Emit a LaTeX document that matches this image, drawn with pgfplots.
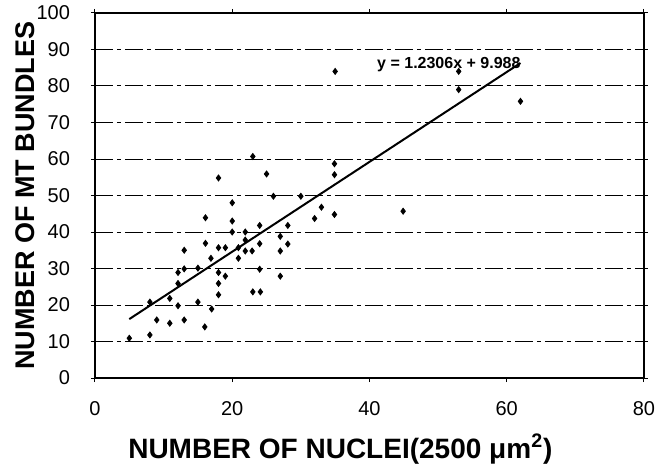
\documentclass[border=0pt]{standalone}
\usepackage{fontspec}
\setmainfont{Liberation Sans}
\usepackage{pgfplots}
\pgfplotsset{compat=1.18}

\begin{document}
\begin{tikzpicture}
\begin{axis}[
    scale only axis, width=274.5pt, height=182.5pt,
    xmin=0, xmax=80, ymin=0, ymax=100,
    xtick={0,20,...,80}, ytick={0,10,...,100},
    ymajorgrids,
    major grid style={black, line width=0.5pt, dash pattern=on 9pt off 2pt on 2pt off 2pt},
    axis line style={black, line width=0.6pt},
    tick style={black, line width=0.5pt},
    major tick length=2pt, tick align=outside,
    /pgf/number format/assume math mode=true,
    ticklabel style={font=\fontsize{10}{12}\selectfont},
    xticklabel style={yshift=-6pt},
    yticklabel style={xshift=-7pt},
    xlabel={NUMBER OF NUCLEI(2500 μm\textsuperscript{2})},
    ylabel={NUMBER OF MT BUNDLES},
    xlabel style={font=\fontsize{14}{16}\selectfont\bfseries,
      at={(axis description cs:0.447,-0.1945)}, anchor=center},
    ylabel style={font=\fontsize{13.5}{16}\selectfont\bfseries,
      at={(axis description cs:-0.1275,0.5)}, anchor=center},
  ]
  % measured points
  \addplot[only marks, mark=diamond*, mark size=1.5pt, black] coordinates {
      (5,10.9) (8,11.8) (8,20.8) (9,15.9) (10.9,15.0) (10.9,21.8)
      (12.1,19.8) (12.1,25.9) (12.1,28.9) (13,15.9) (13,29.9) (13,35.0)
      (15,20.8) (15,30.1) (16,14.0) (16.1,36.9) (16.1,43.9) (16.9,32.8)
      (17,18.9) (18,22.8) (18,25.9) (18,28.9) (18,35.7) (18,54.8)
      (19,27.9) (19,35.7) (20,40.0) (20,43.0) (20,48.0) (20.9,32.8)
      (20.9,35.7) (21.9,34.8) (21.9,37.8) (21.9,40.0) (22.9,34.8) (23,23.6)
      (23,60.7) (24,29.8) (24,36.8) (24,41.8) (24.1,23.6) (25,55.9)
      (26,49.8) (27,27.9) (27,34.8) (27,38.8) (28.1,36.7) (28.1,41.8)
      (30,49.8) (32,43.7) (33,46.8) (34.9,44.8) (34.9,55.7) (34.9,58.7)
      (35,84.0) (44.9,45.7) (53,79.0) (53,84.0) (62,75.8)
    };
  % linear trend line
  \addplot[black, line width=1pt, mark=none] coordinates {
      (5,16.14) (62,86.29)
    };
  \node[anchor=base west, font=\fontsize{8}{9.6}\selectfont\bfseries]
    at (axis cs:40.1,84.9) {y = 1.2306x + 9.988};
  \coordinate (bl) at (rel axis cs:-0.1730,-0.2466);
  \coordinate (tr) at (rel axis cs:1.0237,1.0356);
\end{axis}
\pgfresetboundingbox
\path (bl) rectangle (tr);
\end{tikzpicture}
\end{document}
